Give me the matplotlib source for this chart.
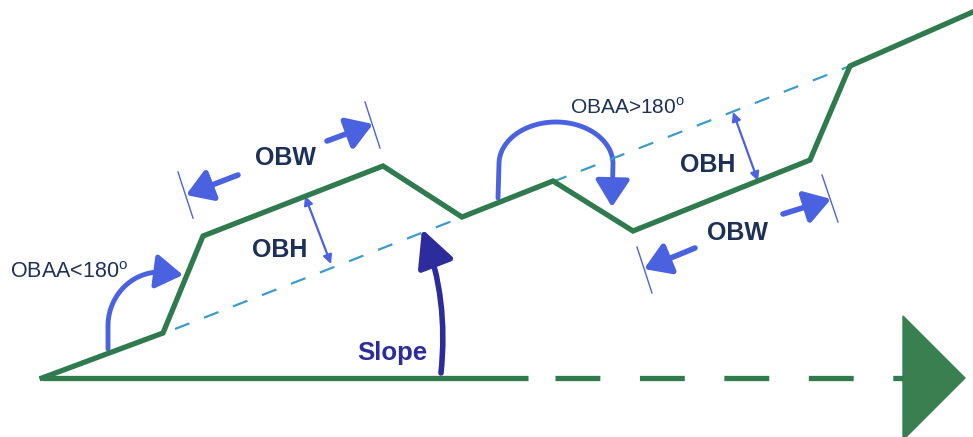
import matplotlib
matplotlib.use("Agg")
import numpy as np
from matplotlib import pyplot as plt
from matplotlib.patches import FancyArrowPatch, Polygon
from matplotlib.path import Path

# profile of the obstacle course (pixel coords, y down)
profile_x = [42, 163, 203, 383, 462, 553, 633, 810, 850, 975]
profile_y = [378, 333, 236, 166, 217, 181, 231, 160, 66, 11]

# mean slope line
slope_x = [175, 850]
slope_y = [329, 66]

# horizontal reference
base_solid_x = [42, 528]
base_dash_x = [555, 903]
base_y = 378
tri_x = [903, 903, 965]
tri_y = [316, 440, 378]

# angle arcs: start point, ellipse (centre, radii, start/end angle in deg), tip
arc_small = dict(start=(108, 349), ell=(160, 326, 52, 54, 180, 90), tip=(183, 275))
arc_big = dict(start=(498, 198), ell=(556, 164, 57, 42, 180, 0), tip=(612, 207))

green = "#2f7b4e"
blue = "#4a62e0"
navy = "#1d3158"
dark_blue = "#2c2c9c"
teal = "#3d9cc8"

fig = plt.figure(figsize=(9.73, 4.37), dpi=100)
ax = fig.add_axes([0, 0, 1, 1])
ax.set_xlim(0, 973)
ax.set_ylim(437, 0)
ax.axis("off")

# ground line and arrow head
ax.plot(base_solid_x, [base_y, base_y], color=green, lw=3.8, solid_capstyle="butt")
ax.plot(base_dash_x, [base_y, base_y], color=green, lw=3.8, dashes=(8.5, 7.5))
ax.add_patch(Polygon(list(zip(tri_x, tri_y)), closed=True, color="#3a7f50"))

# slope dashed line
ax.plot(slope_x, slope_y, color=teal, lw=1.6, dashes=(7, 7))

# profile
ax.plot(profile_x, profile_y, color=green, lw=3.8, solid_joinstyle="miter")

big_head = "-|>,head_length=0.55,head_width=0.35"


def thick_arrow(p0, p1):
    ax.add_patch(FancyArrowPatch(p0, p1, arrowstyle=big_head, mutation_scale=28,
                                 lw=4, color=blue, shrinkA=0, shrinkB=0))


def thin_line(p0, p1):
    ax.plot([p0[0], p1[0]], [p0[1], p1[1]], color=blue, lw=1.0)


def double_arrow(p0, p1):
    ax.add_patch(FancyArrowPatch(p0, p1, arrowstyle="<|-|>", mutation_scale=13,
                                 lw=1.6, color=blue, shrinkA=0, shrinkB=0))


def arc_arrow(arc):
    cx, cy, rx, ry, t0, t1 = arc["ell"]
    t = np.radians(np.linspace(t0, t1, 60))
    pts = np.column_stack([cx + rx * np.cos(t), cy - ry * np.sin(t)])
    pts = np.vstack([arc["start"], pts, arc["tip"]])
    ax.add_patch(FancyArrowPatch(path=Path(pts), arrowstyle=big_head, mutation_scale=30,
                                 lw=3.5, color=blue, shrinkA=0, shrinkB=0))


txt = dict(fontfamily="Liberation Sans", color=navy)

# upper OBW
thin_line((178, 172), (193, 218))
thin_line((365, 102), (380, 148))
thick_arrow((238, 175), (186, 195))
thick_arrow((327, 141), (373, 124))
ax.text(285, 158, "OBW", fontsize=18, fontweight="bold", ha="center", va="center", **txt)

# upper OBH
double_arrow((305, 196), (331, 264))
ax.text(280, 250, "OBH", fontsize=18, fontweight="bold", ha="center", va="center", **txt)

# lower OBW
thin_line((637, 247), (652, 293))
thin_line((822, 175), (838, 222))
thick_arrow((695, 248), (644, 269))
thick_arrow((783, 214), (831, 199))
ax.text(737, 233, "OBW", fontsize=18, fontweight="bold", ha="center", va="center", **txt)

# lower OBH
double_arrow((733, 112), (758, 181))
ax.text(708, 165, "OBH", fontsize=18, fontweight="bold", ha="center", va="center", **txt)

# angle arcs
arc_arrow(arc_small)
ax.text(10, 272, "OBAA<180$^{\\mathregular{o}}$", fontsize=15.5, ha="left", va="center", **txt)
arc_arrow(arc_big)
ax.text(570, 107, "OBAA>180$^{\\mathregular{o}}$", fontsize=15, ha="left", va="center", **txt)

# slope arrow
ax.add_patch(FancyArrowPatch((441, 373), (422, 229), connectionstyle="arc3,rad=0.12",
                             arrowstyle="-|>,head_length=0.6,head_width=0.3",
                             mutation_scale=38, lw=4, color=dark_blue,
                             shrinkA=0, shrinkB=0))
ax.text(357, 353, "Slope", fontsize=18.5, fontweight="bold", ha="left", va="center",
        fontfamily="Liberation Sans", color=dark_blue)

plt.savefig("out.png", dpi=100)
